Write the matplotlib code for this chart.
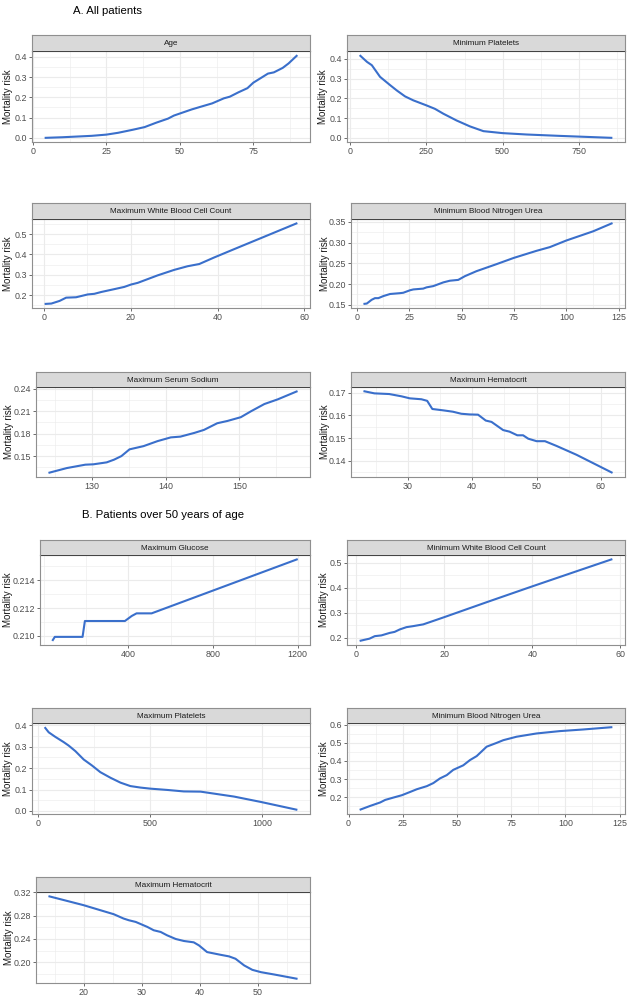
# plot.py

import numpy as np
import matplotlib.pyplot as plt
from matplotlib.ticker import FixedLocator, AutoMinorLocator

plt.rcParams['font.family'] = ['Liberation Sans', 'DejaVu Sans']

W, H = 631, 999

# -----------------------------
# 1. Data
# -----------------------------
# A. All patients
age_x = [4, 10, 20, 25, 29, 34, 38, 42, 46, 48, 50, 54, 57, 61, 65, 67, 70, 73, 75, 77, 80, 82, 85, 87, 90]
age_y = [0.0, 0.003, 0.01, 0.016, 0.025, 0.04, 0.053, 0.075, 0.095, 0.11, 0.12, 0.14, 0.153, 0.17,
         0.195, 0.203, 0.225, 0.245, 0.272, 0.29, 0.317, 0.323, 0.345, 0.367, 0.408]

minplt_x = [31, 55, 71, 98, 131, 153, 180, 207, 251, 278, 306, 349, 393, 437, 500, 579, 688, 860]
minplt_y = [0.419, 0.385, 0.368, 0.309, 0.267, 0.24, 0.21, 0.19, 0.164, 0.147, 0.122, 0.088,
            0.058, 0.034, 0.024, 0.017, 0.01, 0.0]

maxwbc_x = [0.15, 1.7, 3.6, 5.1, 7.4, 10.1, 11.6, 13.2, 16.2, 18.5, 20.1, 21.6, 26.2, 30, 33.1,
            35.8, 39.2, 43.8, 51.5, 58.4]
maxwbc_y = [0.156, 0.158, 0.171, 0.187, 0.189, 0.203, 0.206, 0.215, 0.229, 0.24, 0.252, 0.26,
            0.297, 0.324, 0.342, 0.353, 0.385, 0.426, 0.494, 0.555]

minbun_x = [3.2, 4.8, 7.1, 8.7, 10.3, 12.7, 15.9, 20.6, 22.2, 25.4, 27, 31.7, 33.3, 36.5, 38.1,
            41.3, 44.4, 48.4, 51.6, 57.1, 66.7, 74.9, 85.7, 92.1, 100, 112.7, 122]
minbun_y = [0.152, 0.153, 0.162, 0.166, 0.166, 0.171, 0.176, 0.178, 0.179, 0.185, 0.187, 0.189,
            0.192, 0.195, 0.198, 0.204, 0.208, 0.21, 0.219, 0.231, 0.248, 0.263, 0.28, 0.289,
            0.305, 0.327, 0.347]

sodium_x = [124.1, 126.6, 129.1, 130.2, 132, 133, 134, 135.1, 137, 138.9, 140.7, 142, 143.9,
            145.2, 147, 148.4, 150.2, 151.6, 153.4, 155.2, 157.9]
sodium_y = [0.1275, 0.134, 0.1385, 0.139, 0.1416, 0.1452, 0.15, 0.159, 0.1633, 0.17, 0.175,
            0.176, 0.181, 0.185, 0.1939, 0.197, 0.202, 0.21, 0.2196, 0.2258, 0.2369]

hct_x = [23.1, 24.8, 27.1, 29, 30.3, 32.1, 33, 33.8, 35.5, 37, 38.3, 39.6, 40.9, 42.1, 43,
         43.8, 44.8, 45.8, 47, 47.9, 48.7, 50, 51.3, 53.1, 56.2, 61.8]
hct_y = [0.1707, 0.1697, 0.1694, 0.1684, 0.1675, 0.1671, 0.1664, 0.1628, 0.1622, 0.1616,
         0.1607, 0.1604, 0.1603, 0.1577, 0.1571, 0.1555, 0.1535, 0.1528, 0.1512, 0.1512,
         0.1497, 0.1486, 0.1486, 0.1465, 0.1426, 0.1346]

# B. Patients over 50 years of age
glu_x = [41, 53, 184, 195, 384, 416, 439, 510, 1200]
glu_y = [0.20964, 0.20993, 0.20993, 0.21107, 0.21107, 0.21143, 0.21162, 0.21162, 0.21552]

minwbc_x = [0.76, 3.0, 4.2, 5.7, 7.6, 8.7, 9.9, 11.4, 12.9, 15.2, 16.7, 20, 30, 40, 50, 58.2]
minwbc_y = [0.188, 0.197, 0.207, 0.21, 0.22, 0.224, 0.234, 0.243, 0.247, 0.254, 0.263, 0.283,
            0.345, 0.406, 0.466, 0.515]

maxplt_x = [30, 48, 77, 115, 137, 167, 204, 241, 278, 323, 368, 412, 457, 501, 576, 650, 725,
            874, 993, 1156]
maxplt_y = [0.391, 0.367, 0.346, 0.321, 0.305, 0.279, 0.24, 0.212, 0.181, 0.155, 0.132, 0.116,
            0.109, 0.104, 0.098, 0.091, 0.09, 0.067, 0.042, 0.005]

minbun50_x = [5.1, 10, 14.6, 16.9, 20.7, 24.6, 28.4, 31.5, 36.1, 39.1, 42.2, 45.3, 48.3, 52.9,
              56, 59.1, 63.7, 68.3, 71.4, 77.5, 86.7, 97.4, 108.2, 121.7]
minbun50_y = [0.13, 0.152, 0.171, 0.185, 0.198, 0.211, 0.229, 0.244, 0.261, 0.278, 0.304,
              0.322, 0.351, 0.376, 0.405, 0.427, 0.479, 0.5, 0.515, 0.534, 0.552, 0.565,
              0.574, 0.587]

hct50_x = [13.95, 17.1, 20, 22.9, 25.2, 26.9, 27.8, 29, 31, 32.1, 33.3, 34.4, 35.9, 37.3, 39,
           39.9, 41.3, 43.6, 45.1, 46.2, 47.7, 49.1, 50.6, 52.9, 56.9]
hct50_y = [0.3131, 0.3051, 0.2977, 0.2891, 0.2823, 0.2749, 0.272, 0.2691, 0.2606, 0.2549,
           0.252, 0.2463, 0.24, 0.2366, 0.2343, 0.2291, 0.2177, 0.2131, 0.2103, 0.2063,
           0.1949, 0.1874, 0.1834, 0.1794, 0.172]

# title, x, y, x ticks, y ticks, y tick format
panels = [
    ("Age", age_x, age_y, [0, 25, 50, 75], [0.0, 0.1, 0.2, 0.3, 0.4], "{:.1f}"),
    ("Minimum Platelets", minplt_x, minplt_y, [0, 250, 500, 750], [0.0, 0.1, 0.2, 0.3, 0.4], "{:.1f}"),
    ("Maximum White Blood Cell Count", maxwbc_x, maxwbc_y, [0, 20, 40, 60], [0.2, 0.3, 0.4, 0.5], "{:.1f}"),
    ("Minimum Blood Nitrogen Urea", minbun_x, minbun_y, [0, 25, 50, 75, 100, 125],
     [0.15, 0.20, 0.25, 0.30, 0.35], "{:.2f}"),
    ("Maximum Serum Sodium", sodium_x, sodium_y, [130, 140, 150], [0.15, 0.18, 0.21, 0.24], "{:.2f}"),
    ("Maximum Hematocrit", hct_x, hct_y, [30, 40, 50, 60], [0.14, 0.15, 0.16, 0.17], "{:.2f}"),
    ("Maximum Glucose", glu_x, glu_y, [400, 800, 1200], [0.210, 0.212, 0.214], "{:.3f}"),
    ("Minimum White Blood Cell Count", minwbc_x, minwbc_y, [0, 20, 40, 60], [0.2, 0.3, 0.4, 0.5], "{:.1f}"),
    ("Maximum Platelets", maxplt_x, maxplt_y, [0, 500, 1000], [0.0, 0.1, 0.2, 0.3, 0.4], "{:.1f}"),
    ("Minimum Blood Nitrogen Urea", minbun50_x, minbun50_y, [0, 25, 50, 75, 100, 125],
     [0.2, 0.3, 0.4, 0.5, 0.6], "{:.1f}"),
    ("Maximum Hematocrit", hct50_x, hct50_y, [20, 30, 40, 50], [0.20, 0.24, 0.28, 0.32], "{:.2f}"),
]

# -----------------------------
# 2. Layout in pixels: left, right, strip top, strip bottom, panel bottom, ylabel x
# -----------------------------
layout = [
    (32, 310, 35, 51, 142, 8.5),
    (347, 625, 35, 51, 142, 323),
    (32, 310, 203, 219, 308, 8.5),
    (351, 625, 203, 219, 308, 324.5),
    (36, 310, 372, 387, 477, 9),
    (351, 625, 372, 387, 477, 324.5),
    (40, 310, 540, 555, 645, 8.5),
    (347, 625, 540, 555, 645, 324),
    (32, 310, 708, 723, 814, 8.5),
    (347, 625, 708, 723, 814, 324),
    (36, 310, 877, 892, 983, 9),
]

LINE = '#3A6FCB'
BORDER = '#8F8F8F'
GRID = '#EBEBEB'

fig = plt.figure(figsize=(W / 100, H / 100), dpi=100)


def box(l, t, r, b):
    return [l / W, 1 - b / H, (r - l) / W, (b - t) / H]


def expand(v):
    lo, hi = min(v), max(v)
    d = (hi - lo) * 0.05
    return lo - d, hi + d


for (title, xs, ys, xt, yt, yfmt), (l, r, st, sb, pb, ylx) in zip(panels, layout):
    ax = fig.add_axes(box(l, sb, r, pb))
    ax.plot(xs, ys, color=LINE, lw=1.5, solid_capstyle='butt', zorder=3)
    ax.set_xlim(*expand(xs))
    ax.set_ylim(*expand(ys))
    ax.xaxis.set_major_locator(FixedLocator(xt))
    ax.yaxis.set_major_locator(FixedLocator(yt))
    ax.xaxis.set_minor_locator(AutoMinorLocator(2))
    ax.yaxis.set_minor_locator(AutoMinorLocator(2))
    ax.set_xticklabels([str(v) for v in xt])
    ax.set_yticklabels([yfmt.format(v) for v in yt])
    ax.grid(which='major', color=GRID, lw=0.8, zorder=0)
    ax.grid(which='minor', color=GRID, lw=0.4, zorder=0)
    ax.set_axisbelow(True)
    ax.tick_params(which='major', length=2, width=0.6, color='#555555', pad=1.5,
                   labelsize=6.4, labelcolor='#4D4D4D')
    ax.tick_params(which='minor', length=0)
    for s in ax.spines.values():
        s.set_color(BORDER)
        s.set_linewidth(0.8)
    ax.spines['top'].set_color('#444444')

    # facet strip
    sx = fig.add_axes(box(l, st, r, sb))
    sx.set_facecolor('#D9D9D9')
    sx.set_xticks([])
    sx.set_yticks([])
    for s in sx.spines.values():
        s.set_color(BORDER)
        s.set_linewidth(0.8)
    sx.spines['bottom'].set_visible(False)
    sx.text(0.5, 0.45, title, ha='center', va='center', fontsize=5.9, color='#1A1A1A',
            transform=sx.transAxes)

    fig.text(ylx / W, 1 - (sb + pb) / 2 / H, 'Mortality risk', rotation=90,
             ha='center', va='center', fontsize=7, color='#1A1A1A')

fig.text(73 / W, 1 - 11 / H, 'A. All patients', ha='left', va='center', fontsize=8.2)
fig.text(82 / W, 1 - 515 / H, 'B. Patients over 50 years of age', ha='left', va='center', fontsize=8.2)

plt.savefig('out.png', dpi=100)
